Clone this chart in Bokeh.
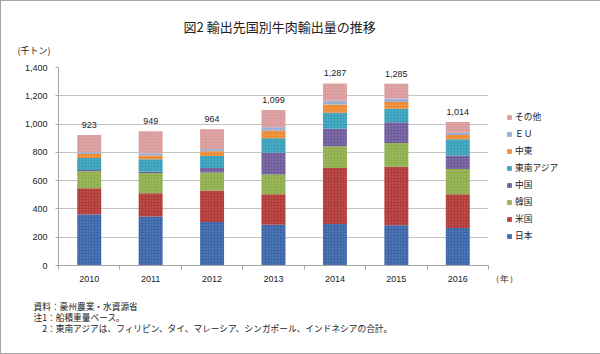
from bokeh.plotting import figure
from bokeh.models import (ColumnDataSource, Range1d, FixedTicker, NumeralTickFormatter,
                          Title, Legend, LegendItem)
from bokeh.core.properties import value
from bokeh.embed import file_html
from bokeh.resources import INLINE

# ---- data (thousand tonnes) ----
years = ["2010", "2011", "2012", "2013", "2014", "2015", "2016"]
japan = [360, 346, 308, 289, 294, 285, 266]
usa = [186, 165, 222, 215, 396, 414, 237]
korea = [120, 143, 127, 139, 153, 167, 179]
china = [10, 9, 33, 155, 124, 146, 95]
sea = [84, 88, 84, 101, 113, 96, 115]
mideast = [28, 26, 33, 54, 59, 48, 31]
eu = [12, 16, 17, 24, 26, 25, 16]
others = [123, 156, 140, 122, 122, 104, 75]
totals = [923, 949, 964, 1099, 1287, 1285, 1014]

keys = ["japan", "usa", "korea", "china", "sea", "mideast", "eu", "others"]
names = ["日本", "米国", "韓国", "中国", "東南アジア", "中東", "ＥＵ", "その他"]
colors = ["#3b66aa", "#b23a39", "#8fae4c", "#6f5d9b", "#38a0bb", "#ee8a32", "#98abd3", "#d99b9b"]

title_text = "図2  輸出先国別牛肉輸出量の推移"
unit_text = "(千トン)"
year_text = "\u3000\u3000\u3000\u2002（年）"
notes = ["資料：豪州農業・水資源省",
         "注1：船積重量ベース。",
         "\u30002：東南アジアは、フィリピン、タイ、マレーシア、シンガポール、インドネシアの合計。"]

JP = "Noto Sans CJK JP"
NUM = "Liberation Sans"
TXT = "#222222"

xs = list(range(1, len(years) + 1))
src = ColumnDataSource(dict(x=xs, japan=japan, usa=usa, korea=korea, china=china, sea=sea,
                            mideast=mideast, eu=eu, others=others))

FW, FH = 430, 198
ML, MR, MT, MB = 57, 111, 66, 88
p = figure(frame_width=FW, frame_height=FH, x_range=Range1d(0.5, len(years) + 0.5),
           y_range=Range1d(0, 1400),
           output_backend="svg", toolbar_location=None, title=None,
           min_border_left=ML, min_border_right=MR, min_border_top=MT, min_border_bottom=MB)
p.styles = {"border": "1px solid #a6a6a6"}
p.outline_line_color = None
p.background_fill_color = "white"
p.border_fill_color = "white"

rs = p.vbar_stack(keys, x="x", width=0.39, source=src, fill_color=colors, line_color=None,
                  hatch_pattern="dot", hatch_color="white", hatch_alpha=0.25, hatch_scale=3,
                  hatch_weight=1)

# total labels
tsrc = ColumnDataSource(dict(x=xs, y=[t + 72 for t in totals], t=[f"{t:,}" for t in totals]))
p.text(x="x", y="y", text="t", source=tsrc, text_align="center", text_baseline="middle",
       text_font=value(NUM), text_font_size="9px", text_color=TXT)

# axes
end = len(years) + 0.5
p.xaxis.ticker = FixedTicker(ticks=xs + [end], minor_ticks=[i + 0.5 for i in range(len(years) + 1)])
ov = {x: y for x, y in zip(xs, years)}
ov[end] = year_text
p.xaxis.major_label_overrides = ov
p.xaxis.major_tick_out = 0
p.xaxis.major_tick_in = 0
p.xaxis.minor_tick_out = 4
p.xaxis.minor_tick_in = 0
p.xaxis.minor_tick_line_color = "#a6a6a6"
p.xaxis.axis_line_color = "#a6a6a6"
p.xaxis.major_label_standoff = 4
p.xaxis.major_label_text_font = NUM
p.xaxis.major_label_text_font_size = "9px"
p.xaxis.major_label_text_color = TXT

p.yaxis.ticker = FixedTicker(ticks=list(range(0, 1401, 200)), minor_ticks=[])
p.yaxis.formatter = NumeralTickFormatter(format="0,0")
p.yaxis.major_tick_out = 3
p.yaxis.major_tick_in = 0
p.yaxis.major_tick_line_color = "#a6a6a6"
p.yaxis.minor_tick_line_color = None
p.yaxis.axis_line_color = "#a6a6a6"
p.yaxis.major_label_standoff = 8
p.yaxis.major_label_text_font = NUM
p.yaxis.major_label_text_font_size = "9px"
p.yaxis.major_label_text_color = TXT

p.xgrid.visible = False
p.ygrid.ticker = FixedTicker(ticks=list(range(0, 1401, 200)))
p.ygrid.grid_line_color = "#c4c4c4"

# titles (side panels are not clipped)
t_unit = Title(text=unit_text, align="left", offset=16 - ML, vertical_align="top", standoff=17,
               text_font=JP, text_font_size="9px", text_font_style="normal", text_color=TXT)
t_main = Title(text=title_text, align="left", offset=182 - ML, vertical_align="bottom", standoff=0,
               text_font=JP, text_font_size="13px", text_font_style="normal", text_color=TXT)
p.add_layout(t_unit, "above")
p.add_layout(t_main, "above")

t_notes = Title(text="\n".join(notes), align="left", offset=32 - ML, vertical_align="top",
                standoff=26, text_font=JP, text_font_size="8.7px", text_font_style="normal",
                text_color=TXT, text_line_height=0.85)
p.add_layout(t_notes, "below")

items = [LegendItem(label=n, renderers=[r]) for n, r in zip(names, rs)][::-1]
leg = Legend(items=items, location="top_left", padding=0, margin=18, spacing=4,
             glyph_width=6, glyph_height=6, label_standoff=3, label_height=12,
             label_text_font=JP, label_text_font_size="8.7px", label_text_color=TXT,
             title="\u3000", title_text_font_size="8px", title_standoff=14,
             border_line_color=None, background_fill_alpha=0)
p.add_layout(leg, "right")

open("out.html", "w").write(file_html(p, INLINE))
